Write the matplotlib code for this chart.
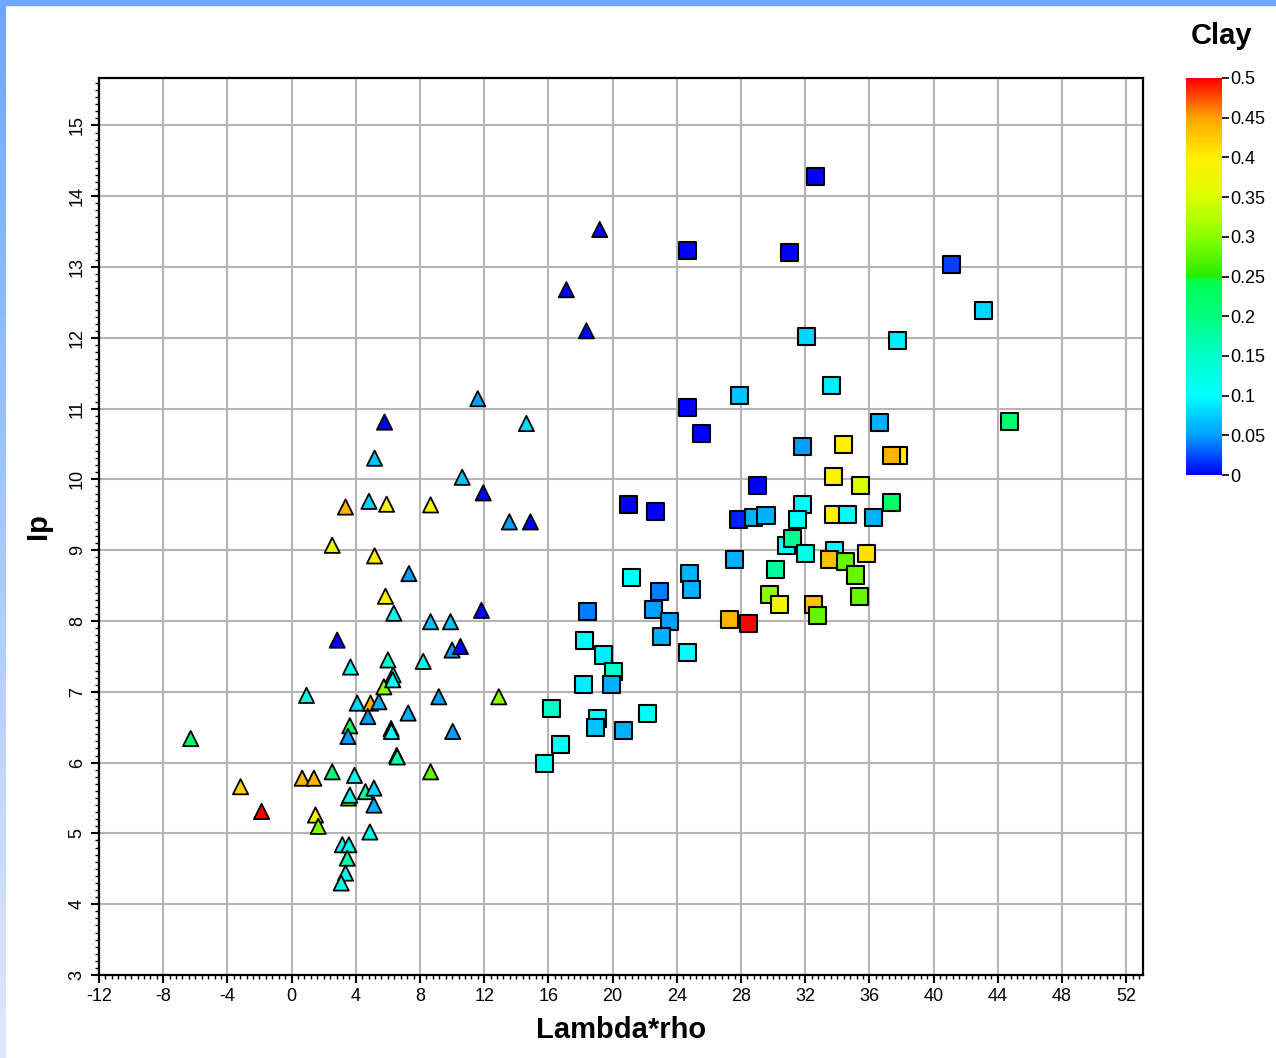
import matplotlib
matplotlib.use("Agg")
import matplotlib.pyplot as plt
import numpy as np
from matplotlib.colors import LinearSegmentedColormap, Normalize
from matplotlib.ticker import MultipleLocator, FixedLocator

plt.rcParams['font.family'] = ['Liberation Sans', 'DejaVu Sans']
plt.rcParams['axes.unicode_minus'] = False

# triangles (first group)
tri_x = [-6.29, -3.18, -1.87, 0.66, 1.39, 1.49, 1.66, 0.93, 2.53, 2.53, 2.84, 3.36,
         3.67, 3.63, 3.51, 3.55, 3.63, 3.92, 4.60, 5.13, 5.13, 4.88, 3.16, 3.57,
         3.47, 3.36, 3.09, 4.09, 4.92, 5.44, 4.75, 5.75, 6.33, 6.30, 6.00, 6.20,
         6.22, 6.55, 6.58, 7.26, 8.20, 8.66, 9.90, 10.00, 10.52, 9.17, 10.04, 8.66,
         12.91, 11.83, 7.31, 5.85, 6.37, 5.17, 4.82, 5.92, 8.66, 5.17, 5.79, 10.63,
         11.94, 13.57, 14.88, 14.63, 11.60, 18.37, 17.12, 19.20]
tri_y = [6.34, 5.66, 5.31, 5.78, 5.78, 5.26, 5.10, 6.95, 5.87, 9.07, 7.73, 9.61,
         7.35, 6.52, 6.37, 5.50, 5.54, 5.82, 5.59, 5.64, 5.40, 5.02, 4.84, 4.84,
         4.65, 4.44, 4.30, 6.84, 6.84, 6.86, 6.65, 7.07, 7.24, 7.17, 7.45, 6.48,
         6.44, 6.10, 6.08, 6.70, 7.43, 7.99, 7.99, 7.59, 7.64, 6.93, 6.44, 5.87,
         6.93, 8.15, 8.67, 8.35, 8.11, 8.92, 9.69, 9.65, 9.64, 10.30, 10.81, 10.03,
         9.81, 9.40, 9.40, 10.79, 11.14, 12.10, 12.68, 13.53]
tri_clay = [0.22, 0.42, 0.50, 0.44, 0.44, 0.39, 0.29, 0.13, 0.20, 0.36, 0.00, 0.44,
            0.12, 0.22, 0.05, 0.27, 0.12, 0.12, 0.17, 0.08, 0.06, 0.12, 0.10, 0.12,
            0.17, 0.12, 0.12, 0.08, 0.44, 0.06, 0.05, 0.30, 0.11, 0.10, 0.15, 0.05,
            0.11, 0.00, 0.17, 0.06, 0.12, 0.07, 0.07, 0.05, 0.00, 0.05, 0.05, 0.28,
            0.30, 0.00, 0.05, 0.39, 0.12, 0.40, 0.08, 0.40, 0.39, 0.07, 0.00, 0.07,
            0.00, 0.05, 0.00, 0.08, 0.05, 0.00, 0.00, 0.00]

# squares (second group)
sq_x = [24.64, 31.00, 32.63, 41.14, 43.10, 32.11, 37.75, 33.62, 27.92, 24.64,
        25.53, 36.61, 44.71, 37.80, 37.40, 31.86, 34.39, 33.77, 29.03, 35.47,
        37.36, 20.98, 22.66, 27.85, 28.79, 29.56, 31.86, 31.53, 33.77, 34.64,
        36.26, 30.86, 31.24, 32.00, 33.81, 33.52, 34.50, 35.85, 35.12, 27.58,
        30.14, 35.39, 29.78, 30.40, 32.52, 32.77, 27.27, 28.44, 21.15, 24.78,
        24.91, 22.91, 18.41, 22.56, 23.54, 18.26, 23.02, 24.64, 19.41, 20.03,
        18.16, 19.91, 16.17, 19.03, 18.93, 20.65, 22.15, 16.75, 15.77]
sq_y = [13.23, 13.20, 14.28, 13.03, 12.39, 12.02, 11.96, 11.33, 11.19, 11.02,
        10.65, 10.80, 10.82, 10.34, 10.34, 10.47, 10.49, 10.04, 9.91, 9.91,
        9.67, 9.65, 9.55, 9.43, 9.46, 9.49, 9.64, 9.44, 9.50, 9.50,
        9.46, 9.07, 9.16, 8.96, 9.00, 8.87, 8.84, 8.96, 8.65, 8.87,
        8.73, 8.34, 8.37, 8.23, 8.23, 8.08, 8.02, 7.97, 8.62, 8.67,
        8.45, 8.41, 8.13, 8.16, 8.00, 7.72, 7.78, 7.56, 7.52, 7.29,
        7.10, 7.10, 6.77, 6.63, 6.50, 6.46, 6.69, 6.25, 5.99]
sq_clay = [0.00, 0.00, 0.00, 0.02, 0.08, 0.08, 0.09, 0.09, 0.07, 0.00,
           0.00, 0.06, 0.22, 0.40, 0.44, 0.05, 0.40, 0.40, 0.00, 0.35,
           0.22, 0.00, 0.00, 0.01, 0.06, 0.06, 0.10, 0.10, 0.40, 0.11,
           0.06, 0.10, 0.19, 0.12, 0.10, 0.43, 0.28, 0.41, 0.28, 0.06,
           0.18, 0.28, 0.30, 0.38, 0.43, 0.28, 0.44, 0.50, 0.10, 0.06,
           0.06, 0.04, 0.04, 0.05, 0.05, 0.10, 0.06, 0.10, 0.09, 0.15,
           0.09, 0.06, 0.15, 0.10, 0.07, 0.06, 0.11, 0.11, 0.11]

cbar_ticks = [0, 0.05, 0.1, 0.15, 0.2, 0.25, 0.3, 0.35, 0.4, 0.45, 0.5]
cbar_labels = ['0', '0.05', '0.1', '0.15', '0.2', '0.25', '0.3', '0.35', '0.4', '0.45', '0.5']

# rainbow-ish colormap like the original software
nodes = [(0.0, (0.0, 0.0, 1.0)), (0.1, (0.0, 0.63, 1.0)), (0.2, (0.0, 1.0, 1.0)),
         (0.3, (0.0, 1.0, 0.78)), (0.4, (0.0, 1.0, 0.5)), (0.49, (0.0, 1.0, 0.3)),
         (0.5, (0.15, 0.92, 0.0)), (0.6, (0.55, 1.0, 0.0)), (0.7, (0.86, 1.0, 0.0)),
         (0.8, (1.0, 0.94, 0.0)), (0.9, (1.0, 0.65, 0.0)), (1.0, (1.0, 0.0, 0.0))]
cmap = LinearSegmentedColormap.from_list('clay', nodes)
norm = Normalize(vmin=0, vmax=0.5)

fig = plt.figure(figsize=(12.76, 10.58), dpi=100)

# blue frame on top and left
fig.patches.append(plt.Rectangle((0, 1 - 5 / 1058), 1, 5 / 1058, transform=fig.transFigure,
                                 color='#6ea8ff', zorder=0))
band = fig.add_axes([0, 0, 6 / 1276, 1])
band.imshow(np.linspace(0, 1, 100).reshape(-1, 1), aspect='auto',
            cmap=LinearSegmentedColormap.from_list('b', ['#6ea8ff', '#dfe8fb']))
band.axis('off')

ax = fig.add_axes([99 / 1276, 83 / 1058, 1044 / 1276, 897 / 1058])
ax.scatter(tri_x, tri_y, c=tri_clay, cmap=cmap, norm=norm, marker='^', s=120,
           edgecolors='black', linewidths=1.3, zorder=3)
ax.scatter(sq_x, sq_y, c=sq_clay, cmap=cmap, norm=norm, marker='s', s=150,
           edgecolors='black', linewidths=1.5, zorder=3)

ax.set_xlim(-12, 53.05)
ax.set_ylim(3, 15.67)
ax.xaxis.set_major_locator(FixedLocator(range(-12, 53, 4)))
ax.xaxis.set_minor_locator(MultipleLocator(0.4))
ax.yaxis.set_major_locator(FixedLocator(range(3, 16)))
ax.yaxis.set_minor_locator(MultipleLocator(0.1))
ax.grid(True, which='major', color='#b4b4b4', linewidth=1.5, zorder=0)
ax.set_axisbelow(True)
ax.tick_params(which='major', direction='out', length=6, width=1.5, labelsize=13,
               top=False, right=False)
ax.tick_params(which='minor', direction='out', length=3, width=1, top=False, right=False)
for lab in ax.get_yticklabels():
    lab.set_rotation(90)
    lab.set_va('center')
for s in ax.spines.values():
    s.set_linewidth(1.6)
ax.set_xlabel('Lambda*rho', fontsize=21, fontweight='bold', labelpad=8)
ax.set_ylabel('Ip', fontsize=21, fontweight='bold', labelpad=12)

cax = fig.add_axes([1186 / 1276, 583 / 1058, 36 / 1276, 397 / 1058])
sm = plt.cm.ScalarMappable(norm=norm, cmap=cmap)
cb = fig.colorbar(sm, cax=cax, ticks=cbar_ticks)
cb.ax.set_yticklabels(cbar_labels)
cb.ax.tick_params(labelsize=13, length=5, width=1.2, pad=1)
cb.outline.set_visible(False)
fig.text(1222 / 1276, 1 - 36 / 1058, 'Clay', fontsize=21, fontweight='bold',
         ha='center', va='center')

fig.savefig('out.png', dpi=100)
